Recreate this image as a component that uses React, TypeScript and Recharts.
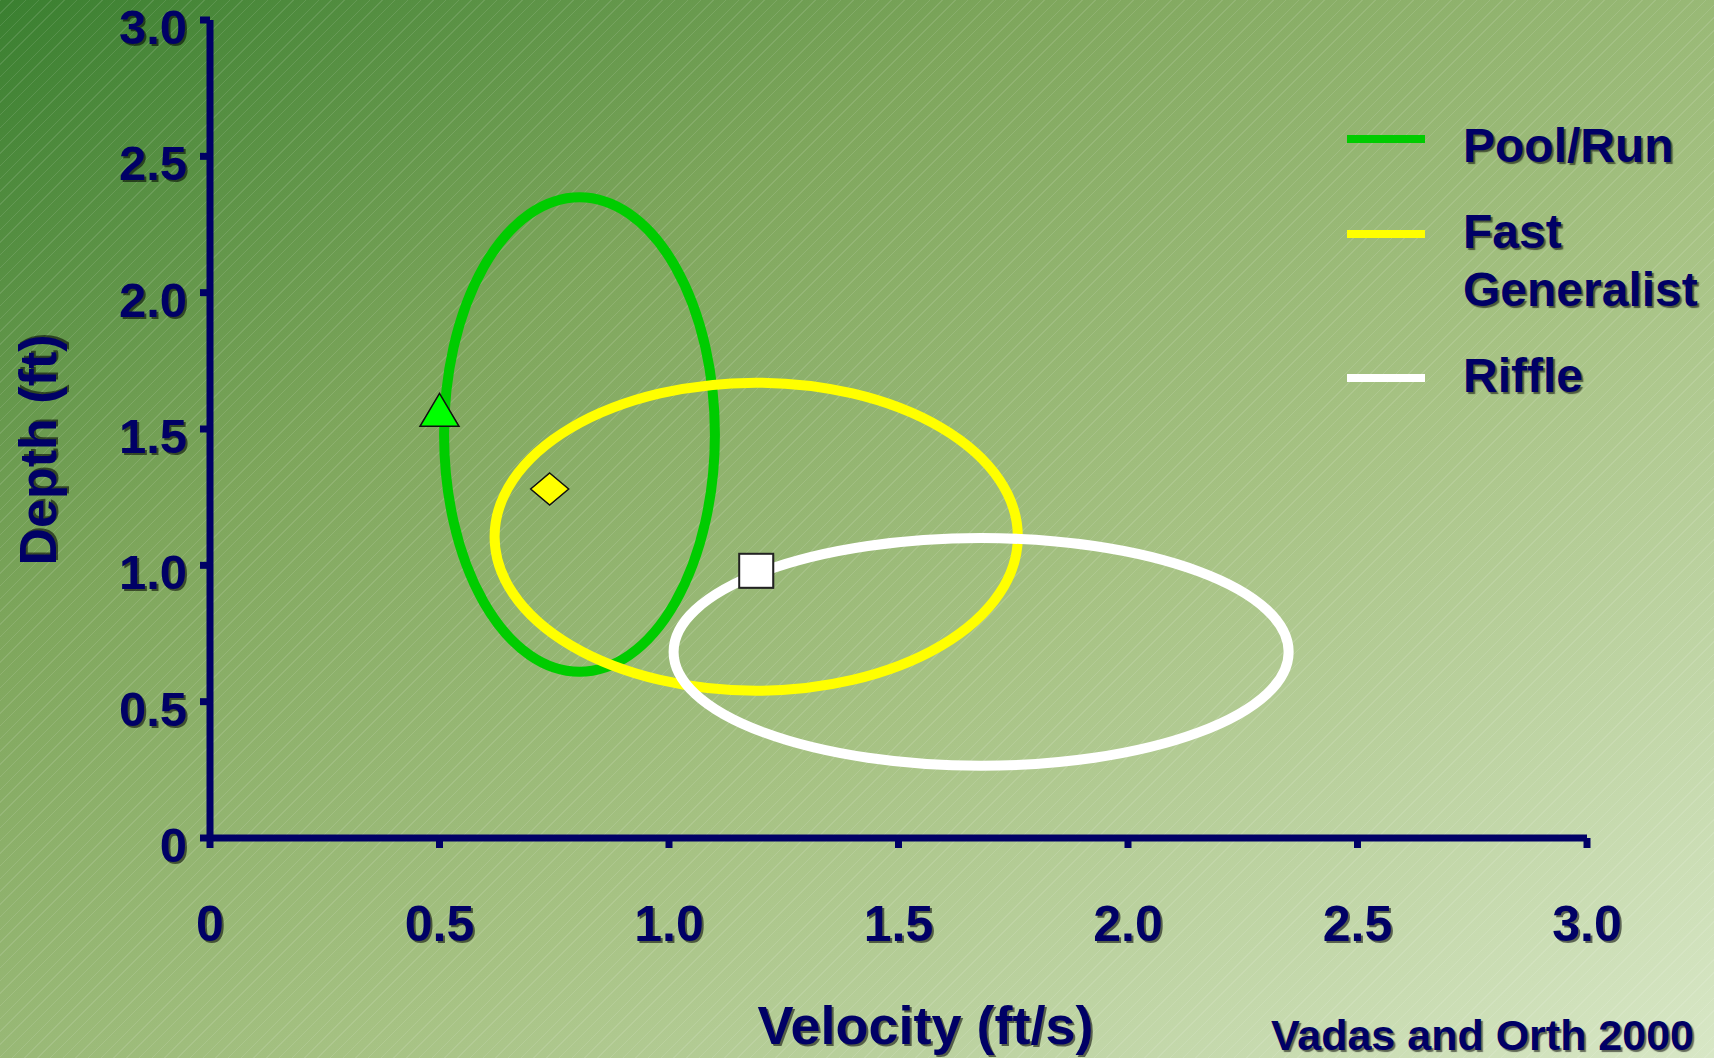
import { ScatterChart, Scatter, XAxis, YAxis } from 'recharts';

// ellipse outlines: left, top, right, bottom extreme points (velocity ft/s, depth ft)
const poolRunRing = [
  { v: 0.51, d: 1.48 },
  { v: 0.805, d: 2.35 },
  { v: 1.1, d: 1.48 },
  { v: 0.805, d: 0.61 },
];
const fastGenRing = [
  { v: 0.62, d: 1.105 },
  { v: 1.19, d: 1.67 },
  { v: 1.76, d: 1.105 },
  { v: 1.19, d: 0.54 },
];
const riffleRing = [
  { v: 1.01, d: 0.68 },
  { v: 1.68, d: 1.1 },
  { v: 2.35, d: 0.68 },
  { v: 1.68, d: 0.265 },
];

// mean positions
const poolRunMean = [{ v: 0.5, d: 1.55 }];
const fastGenMean = [{ v: 0.74, d: 1.28 }];
const riffleMean = [{ v: 1.19, d: 0.98 }];

const axisTicks = [0, 0.5, 1, 1.5, 2, 2.5, 3];
const legendNames = ['Pool/Run', 'Fast Generalist', 'Riffle'];
const legendColors = ['#00cc00', '#ffff00', '#ffffff'];

const NAVY = '#000066';
const FONT = '"Liberation Sans", Arial, sans-serif';
const SHADOW = 'rgba(0,0,0,0.55)';

function ShadowText({ x, y, size = 50, anchor = 'middle', rotate, children }: any) {
  const tf = rotate ? `rotate(${rotate} ${x} ${y})` : undefined;
  const common = {
    fontFamily: FONT,
    fontWeight: 700,
    fontSize: size,
    textAnchor: anchor,
    dominantBaseline: 'central' as const,
  };
  return (
    <g transform={tf}>
      <text x={x + 2} y={y + 2} fill={SHADOW} {...common}>{children}</text>
      <text x={x} y={y} fill={NAVY} {...common}>{children}</text>
    </g>
  );
}

const fmt = (v: number) => (v === 0 ? '0' : v.toFixed(1));

function XTick({ x, y, payload }: any) {
  return <ShadowText x={x} y={y + 76} size={50}>{fmt(payload.value)}</ShadowText>;
}

function YTick({ x, y, payload }: any) {
  return <ShadowText x={x - 13} y={y + 7} size={49} anchor="end">{fmt(payload.value)}</ShadowText>;
}

const ringLine = (color: string) => (props: any) => {
  const pts = (props.points || []) as { x: number; y: number }[];
  const xs = pts.map((p) => p.x);
  const ys = pts.map((p) => p.y);
  const x0 = Math.min(...xs);
  const x1 = Math.max(...xs);
  const y0 = Math.min(...ys);
  const y1 = Math.max(...ys);
  return (
    <ellipse
      cx={(x0 + x1) / 2}
      cy={(y0 + y1) / 2}
      rx={(x1 - x0) / 2}
      ry={(y1 - y0) / 2}
      fill="none"
      stroke={color}
      strokeWidth={10}
    />
  );
};

const hidden = () => <g />;

function Triangle({ cx, cy }: any) {
  return (
    <polygon
      points={`${cx},${cy - 22} ${cx + 19.5},${cy + 11} ${cx - 19.5},${cy + 11}`}
      fill="#00ff00"
      stroke="#111"
      strokeWidth={1.5}
    />
  );
}

function Diamond({ cx, cy }: any) {
  return (
    <polygon
      points={`${cx},${cy - 16} ${cx + 19},${cy} ${cx},${cy + 16} ${cx - 19},${cy}`}
      fill="#ffff00"
      stroke="#111"
      strokeWidth={1.5}
    />
  );
}

function Square({ cx, cy }: any) {
  return (
    <g>
      <rect x={cx - 16} y={cy - 16} width={34} height={34} fill="rgba(0,0,0,0.35)" />
      <rect x={cx - 17} y={cy - 17} width={34} height={34} fill="#ffffff" stroke="#222" strokeWidth={2} />
    </g>
  );
}

const axisStyle = { stroke: NAVY, strokeWidth: 7 };

export default function App() {
  return (
    <div
      style={{
        position: 'absolute',
        left: 0,
        top: 0,
        width: 1714,
        height: 1058,
        overflow: 'hidden',
        background:
          'repeating-linear-gradient(135deg, rgba(255,255,255,0.11) 0px, rgba(255,255,255,0.11) 1px, transparent 1px, transparent 9px), linear-gradient(to bottom right, #3a7f30 0%, #7ea65c 30%, #a6c283 60%, #d8e7c6 100%)',
      }}
    >
      <ScatterChart width={1714} height={1058} margin={{ top: 20, right: 127, bottom: 0, left: 0 }}>
        <XAxis
          type="number"
          dataKey="v"
          domain={[0, 3]}
          ticks={axisTicks}
          interval={0}
          height={220}
          tickSize={10}
          tickMargin={0}
          axisLine={axisStyle}
          tickLine={axisStyle}
          tick={<XTick />}
          label={(p: any) => {
            const vb = p.viewBox || { x: 210, y: 838, width: 1377 };
            return (
              <ShadowText x={vb.x + vb.width / 2 + 27} y={vb.y + 187} size={54}>
                Velocity (ft/s)
              </ShadowText>
            );
          }}
        />
        <YAxis
          type="number"
          dataKey="d"
          domain={[0, 3]}
          ticks={axisTicks}
          interval={0}
          width={210}
          tickSize={10}
          tickMargin={0}
          axisLine={axisStyle}
          tickLine={axisStyle}
          tick={<YTick />}
          label={(p: any) => {
            const vb = p.viewBox || { x: 0, y: 20, height: 818 };
            const cy = vb.y + vb.height / 2 + 21;
            return (
              <ShadowText x={38} y={cy} size={52} rotate={-90}>
                Depth (ft)
              </ShadowText>
            );
          }}
        />
        <Scatter name="Pool/Run" data={poolRunRing} shape={hidden} line={ringLine(legendColors[0])} isAnimationActive={false} />
        <Scatter name="Fast Generalist" data={fastGenRing} shape={hidden} line={ringLine(legendColors[1])} isAnimationActive={false} />
        <Scatter name="Riffle" data={riffleRing} shape={hidden} line={ringLine(legendColors[2])} isAnimationActive={false} />
        <Scatter data={poolRunMean} shape={<Triangle />} isAnimationActive={false} />
        <Scatter data={fastGenMean} shape={<Diamond />} isAnimationActive={false} />
        <Scatter data={riffleMean} shape={<Square />} isAnimationActive={false} />
      </ScatterChart>

      <div style={{ position: 'absolute', left: 1347, top: 117, display: 'flex', flexDirection: 'column', gap: 28 }}>
        {legendNames.map((name, i) => (
          <div key={name} style={{ display: 'flex', alignItems: 'flex-start' }}>
            <div
              style={{
                width: 78,
                height: 8,
                background: legendColors[i],
                marginTop: i === 0 ? 18 : 27,
                marginRight: 38,
              }}
            />
            <div
              style={{
                width: 245,
                fontFamily: FONT,
                fontWeight: 700,
                fontSize: 48,
                lineHeight: '58px',
                color: NAVY,
                textShadow: `2px 2px 1px ${SHADOW}`,
              }}
            >
              {name}
            </div>
          </div>
        ))}
      </div>

      <div
        style={{
          position: 'absolute',
          right: 20,
          top: 1013,
          fontFamily: FONT,
          fontWeight: 700,
          fontSize: 43,
          lineHeight: '44px',
          color: NAVY,
          textShadow: `2px 2px 1px ${SHADOW}`,
          whiteSpace: 'nowrap',
        }}
      >
        Vadas and Orth 2000
      </div>
    </div>
  );
}
